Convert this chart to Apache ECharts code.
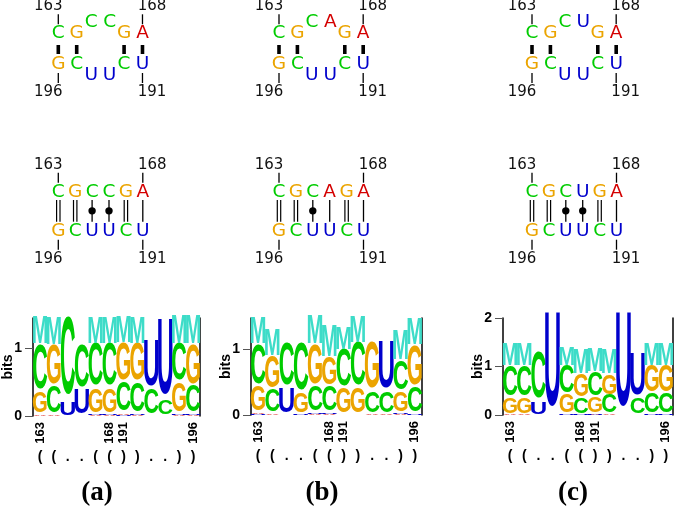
<!DOCTYPE html>
<html><head><meta charset="utf-8">
<script src="https://cdn.jsdelivr.net/npm/echarts@6/dist/echarts.min.js"></script>
<style>html,body{margin:0;padding:0;background:#fff}#c{width:675px;height:506px}</style>
</head><body><div id="c"></div>
<script>
// ---------------- data ----------------
const panelNames = ['(a)', '(b)', '(c)'];
const topStrandA = ['C','G','C','C','G','A'];
const topStrandB = ['C','G','C','A','G','A'];
const topStrandC = ['C','G','C','U','G','A'];
const bottomStrand = ['G','C','U','U','C','U'];
const loopPaired = [true, true, false, false, true, true];
const topEndLabels = ['163', '168'];
const bottomEndLabels = ['196', '191'];

const positions = ['163','164','165','166','167','168','191','192','193','194','195','196'];
const shownPositions = ['163','168','191','196'];
const dotBracket = ['(', '(', '.', '.', '(', '(', ')', ')', '.', '.', ')', ')'];

// logo (a) heights in bits
const logoA_A = [0.02,0.02,0,0,0.01,0.01,0.02,0.01,0,0,0.01,0.01];
const logoA_C = [0.69,0.40,1.18,0.64,0.64,0.64,0.45,0.45,0.38,0.22,0.56,0.40];
const logoA_G = [0.32,0.60,0,0,0.37,0.37,0.56,0.56,0,0,0.45,0.60];
const logoA_U = [0,0,0.20,0.37,0.015,0.015,0.015,0.015,0.70,1.15,0.015,0.015];
const logoA_M = [0.40,0.41,0,0,0.38,0.38,0.39,0.39,0,0,0.43,0.43];
// logo (b)
const logoB_A = [0.015,0.02,0,0,0.01,0.015,0,0,0.01,0.01,0.015,0];
const logoB_C = [0.63,0.35,0.66,0.75,0.39,0.39,0.58,0.68,0.34,0.34,0.45,0.39];
const logoB_G = [0.39,0.50,0,0.30,0.63,0.43,0.39,0.39,0.73,0,0.32,0.63];
const logoB_U = [0.01,0,0.39,0.01,0.015,0.015,0,0,0,0.73,0.015,0.01];
const logoB_M = [0.41,0.41,0,0,0.45,0.48,0.35,0.40,0,0,0.46,0.41];
// logo (c)
const logoC_A = [0.01,0.01,0,0,0,0,0.01,0.015,0,0,0,0];
const logoC_C = [0.65,0.65,1.00,0,0.58,0.33,0.52,0.38,0,0.33,0.43,0.43];
const logoC_G = [0.33,0.33,0,0,0.40,0.48,0.33,0.43,0,0,0.55,0.55];
const logoC_U = [0,0,0.26,2.00,0.01,0.01,0.01,0,2.00,0.90,0.01,0.01];
const logoC_M = [0.45,0.45,0,0,0.38,0.52,0.48,0.52,0,0,0.45,0.45];
const logoMax = [1.44, 1.47, 2];
const logoTicks = [[0,1],[0,1],[0,1,2]];

// ---------------- styling / layout ----------------
const COL = {A:'#d40000', C:'#00cc00', G:'#eba400', U:'#0000cc', M:'#3ddcc8'};
const INK = {A:0.72, C:0.64, G:0.68, U:0.58, M:0.69};
const CAP = {A:0.716, C:0.74, G:0.74, U:0.728, M:0.716};
const LOGO_LETTERS = ['A','C','G','U','M'];
const structX = [58.3, 279, 532];
const logoLeft = [31, 251, 503];
const logoWidth = [169, 171, 170];
const logoHeight = [98, 97, 97];
const labelX = [97, 322, 573];
const SFONT = '"DejaVu Sans", sans-serif';
const LFONT = '"Liberation Sans", Arial, sans-serif';

function buildLogoData(A,C,G,U,M){
  const out=[];
  for(let i=0;i<positions.length;i++){
    const st=[[0,A[i]],[1,C[i]],[2,G[i]],[3,U[i]]].filter(d=>d[1]>0).sort((a,b)=>a[1]-b[1]);
    if(M[i]>0) st.push([4,M[i]]);
    let y=0;
    st.forEach(d=>{out.push([i,y,y+d[1],d[0]]); y+=d[1];});
  }
  return out;
}

function renderLogo(params, api){
  const i=api.value(0), y0=api.value(1), y1=api.value(2), L=LOGO_LETTERS[api.value(3)];
  const p0=api.coord([i,y0]), p1=api.coord([i,y1]);
  const w=api.size([1,0])[0];
  const h=Math.max(p0[1]-p1[1], 0.8);
  const S=40;
  const sx=w*0.99/(INK[L]*S), sy=h/(CAP[L]*S);
  const cy=(p0[1]+p1[1])/2;
  return {type:'text', x:p0[0], y:cy+0.012*S*sy, scaleX:sx, scaleY:sy,
    style:{text:L, x:0, y:0, fill:COL[L], font:'bold '+S+'px '+LFONT, align:'center', verticalAlign:'middle'}};
}

function renderDotBracket(params, api){
  const p=api.coord([api.value(0),0]);
  return {type:'text', x:p[0], y:p[1]+41,
    style:{text:dotBracket[params.dataIndex], x:0, y:0, fill:'#000', font:'bold 14px '+LFONT, align:'center', verticalAlign:'middle'}};
}

function loopLayout(api, n){
  const a0=api.coord([0,1]), a1=api.coord([1,1]), b0=api.coord([0,0]);
  const step=a1[0]-a0[0], h=b0[1]-a0[1];
  const unp=[]; loopPaired.forEach((p,i)=>{if(!p) unp.push(i);});
  const L=unp[0]-1, Rr=unp[unp.length-1]+1;
  const nBack=2*(unp.length+1);
  let lo=Math.max(h,step)/2+1e-6, hi=1000;
  for(let k=0;k<80;k++){const m=(lo+hi)/2; const f=2*Math.asin(h/2/m)+nBack*Math.asin(step/2/m)-Math.PI; if(f>0) lo=m; else hi=m;}
  const R=(lo+hi)/2, al=2*Math.asin(h/2/R), be=2*Math.asin(step/2/R);
  const xL=api.coord([L,1])[0], yT=a0[1], yB=b0[1];
  const cx=xL+R*Math.cos(al/2), cy=(yT+yB)/2;
  const pos=[[],[]];
  for(let c=0;c<=L;c++){pos[1][c]=api.coord([c,1]); pos[0][c]=api.coord([c,0]);}
  unp.forEach((c,k)=>{
    const tA=Math.PI+al/2+(k+1)*be; pos[1][c]=[cx+R*Math.cos(tA), cy+R*Math.sin(tA)];
    const bA=Math.PI-al/2-(k+1)*be; pos[0][c]=[cx+R*Math.cos(bA), cy+R*Math.sin(bA)];
  });
  const xR=cx+R*Math.cos(al/2);
  for(let c=Rr;c<n;c++){pos[1][c]=[xR+(c-Rr)*step, yT]; pos[0][c]=[xR+(c-Rr)*step, yB];}
  return pos;
}

function pairType(t,b){
  const s=t+b;
  if(s==='GC'||s==='CG') return 'double';
  if(s==='AU'||s==='UA') return 'single';
  return 'dot';
}
function seg(x1,y1,x2,y2,w){return {type:'line', shape:{x1,y1,x2,y2}, style:{stroke:'#000', lineWidth:w}};}
function letterEl(L,p){return {type:'text', x:p[0], y:p[1], style:{text:L, x:0, y:0, fill:COL[L], font:'18.5px '+SFONT, align:'center', verticalAlign:'middle'}};}
function numEl(t,x,y){return {type:'text', x, y, style:{text:t, x:0, y:0, fill:'#111', font:'15px '+SFONT, align:'center', verticalAlign:'middle'}};}

function makeStructRender(topSeq, botSeq, mode){
  return function(params, api){
    const col=api.value(0), n=topSeq.length;
    let top, bot;
    if(mode==='loop'){const pos=loopLayout(api,n); top=pos[1][col]; bot=pos[0][col];}
    else {top=api.coord([col,1]); bot=api.coord([col,0]);}
    const ch=[letterEl(topSeq[col],top), letterEl(botSeq[col],bot)];
    if(mode==='loop'){
      if(loopPaired[col]) ch.push(seg(top[0],top[1]+11.7,bot[0],bot[1]-10,3.6));
    } else {
      const t=pairType(topSeq[col],botSeq[col]), y1=top[1]+8.3, y2=bot[1]-9, x=top[0];
      if(t==='double'){ch.push(seg(x-1.7,y1,x-1.7,y2,1.2)); ch.push(seg(x+1.7,y1,x+1.7,y2,1.2));}
      else if(t==='single'){ch.push(seg(x,y1,x,y2,1.3));}
      else {ch.push(seg(x,y1,x,y2,1.3)); ch.push({type:'circle', shape:{cx:x, cy:(y1+y2)/2, r:3.7}, style:{fill:'#000'}});}
    }
    if(col===0||col===n-1){
      const right=col===n-1, k=right?1:0, lx=top[0]+(right?9.5:-10);
      ch.push(seg(top[0],top[1]-19,top[0],top[1]-9,1.3));
      ch.push(seg(bot[0],bot[1]+9,bot[0],bot[1]+19,1.3));
      ch.push(numEl(topEndLabels[k],lx,top[1]-27));
      ch.push(numEl(bottomEndLabels[k],lx,bot[1]+28));
    }
    return {type:'group', children:ch};
  };
}

// ---------------- option ----------------
const tops=[topStrandA, topStrandB, topStrandC];
const logos=[
  buildLogoData(logoA_A,logoA_C,logoA_G,logoA_U,logoA_M),
  buildLogoData(logoB_A,logoB_C,logoB_G,logoB_U,logoB_M),
  buildLogoData(logoC_A,logoC_C,logoC_G,logoC_U,logoC_M)
];
const grid=[], xAxis=[], yAxis=[], series=[], graphic=[];
const colData=tops[0].map((_,i)=>[i,0]);
for(let p=0;p<3;p++){
  // loop diagram
  let gi=grid.length;
  grid.push({left:structX[p], top:33.3, width:18.4*5, height:30.7});
  xAxis.push({gridIndex:gi, type:'value', min:0, max:5, show:false});
  yAxis.push({gridIndex:gi, type:'value', min:0, max:1, show:false});
  series.push({type:'custom', xAxisIndex:xAxis.length-1, yAxisIndex:yAxis.length-1, data:colData, renderItem:makeStructRender(tops[p],bottomStrand,'loop'), silent:true});
  // stem diagram
  gi=grid.length;
  grid.push({left:structX[p], top:191.7, width:84.5, height:39});
  xAxis.push({gridIndex:gi, type:'value', min:0, max:5, show:false});
  yAxis.push({gridIndex:gi, type:'value', min:0, max:1, show:false});
  series.push({type:'custom', xAxisIndex:xAxis.length-1, yAxisIndex:yAxis.length-1, data:colData, renderItem:makeStructRender(tops[p],bottomStrand,'stem'), silent:true});
  // logo
  gi=grid.length;
  grid.push({left:logoLeft[p], top:318, width:logoWidth[p], height:logoHeight[p]});
  xAxis.push({gridIndex:gi, type:'category', data:positions, boundaryGap:true,
    axisLine:{show:false}, axisTick:{show:false},
    axisLabel:{interval:0, rotate:90, margin:6, color:'#000', fontWeight:'bold', fontSize:13, fontFamily:'Liberation Sans',
      formatter:v=>shownPositions.includes(v)?v:''}});
  const xi=xAxis.length-1;
  yAxis.push({gridIndex:gi, type:'value', min:0, max:logoMax[p], position:'left',
    axisLine:{show:true, lineStyle:{color:'#000', width:1.5}},
    axisTick:{show:true, length:8, customValues:logoTicks[p], lineStyle:{color:'#555'}},
    axisLabel:{customValues:logoTicks[p], margin:11, color:'#000', fontWeight:'bold', fontSize:14, fontFamily:'Liberation Sans'},
    splitLine:{show:false},
    name:'bits', nameLocation:'middle', nameGap:18, nameMoveOverlap:false,
    nameTextStyle:{color:'#000', fontWeight:'bold', fontSize:14, fontFamily:'Liberation Sans'}});
  const yi=yAxis.length-1;
  yAxis.push({gridIndex:gi, type:'value', min:0, max:logoMax[p], position:'right',
    axisLine:{show:true, lineStyle:{color:'#000', width:1.5}}, axisTick:{show:false}, axisLabel:{show:false}, splitLine:{show:false}});
  series.push({type:'custom', xAxisIndex:xi, yAxisIndex:yi, data:logos[p], encode:{x:0,y:[1,2]}, renderItem:renderLogo, silent:true});
  series.push({type:'custom', xAxisIndex:xi, yAxisIndex:yi, data:dotBracket.map((_,i)=>[i,0]), renderItem:renderDotBracket, silent:true});
  graphic.push({type:'text', x:labelX[p], y:493, style:{text:panelNames[p], fill:'#000', font:'bold 27px "Liberation Serif", serif', align:'center', verticalAlign:'middle'}});
}

const chart=echarts.init(document.getElementById('c'), null, {renderer:'canvas', width:675, height:506});
chart.setOption({animation:false, backgroundColor:'#fff', grid, xAxis, yAxis, series, graphic});
</script></body></html>
